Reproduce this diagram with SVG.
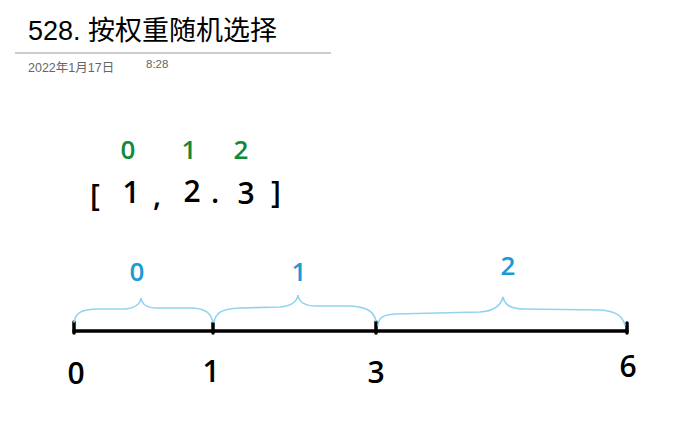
<svg xmlns="http://www.w3.org/2000/svg" width="687" height="448" viewBox="0 0 687 448">
<style>
.hand{font-family:"Open Sans","Liberation Sans",sans-serif;font-weight:600;text-anchor:middle}
.blk{fill:#000}
.grn{fill:#12893a}
.blu{fill:#1a9ad6}
.brace{fill:none;stroke:#93d3ee;stroke-width:1.6;stroke-linecap:round}
.axis{stroke:#000;stroke-width:3.5;stroke-linecap:round}
</style>
<rect width="687" height="448" fill="#fff"/>
<g id="header">
<text x="28" y="40" font-family="'Liberation Sans','Noto Sans CJK SC',sans-serif" font-size="27" fill="#000">528. 按权重随机选择</text>
<line x1="15" y1="53" x2="331" y2="53" stroke="#9a9a9a" stroke-width="1"/>
<text x="28" y="72" font-family="'Liberation Sans','Noto Sans CJK SC',sans-serif" font-size="12.5" fill="#666">2022年1月17日</text>
<text x="146" y="68" font-family="'Liberation Sans',sans-serif" font-size="11.5" fill="#666">8:28</text>
</g>
<g id="indices" class="hand grn" font-size="26">
<text x="128" y="159">0</text>
<text x="189" y="159">1</text>
<text x="241" y="159">2</text>
</g>
<g id="array" class="hand blk" font-size="30">
<text x="95" y="206">[</text>
<text x="131" y="203">1</text>
<text x="157" y="206">,</text>
<text x="192" y="202">2</text>
<text x="215" y="203">.</text>
<text x="246" y="204">3</text>
<text x="276" y="203">]</text>
</g>
<g id="connectors">
<line class="axis" x1="74" y1="331" x2="627" y2="331"/>
<line class="axis" x1="74" y1="322" x2="74" y2="333"/>
<line class="axis" x1="213" y1="323" x2="213" y2="333"/>
<line class="axis" x1="376" y1="322" x2="376" y2="333"/>
<line class="axis" x1="627" y1="323" x2="627" y2="333"/>
<path class="brace" d="M74,322 C76,312 82,310 95,309 L125,309 C135,308 140,305 141,298 C142,305 147,308 157,308 L190,308 C205,308 211,313 213,322"/>
<path class="brace" d="M214,322 C216,312 222,309 240,308 L280,307 C292,306 297,302 298,295 C299,302 304,306 316,306 L350,306 C368,307 374,312 376,321"/>
<path class="brace" d="M378,325 C379,317 383,315 395,314 L480,312 C495,311 501,305 503,297 C505,305 510,309 525,309 L600,310 C615,311 622,315 625,325"/>
</g>
<g id="weights" class="hand blu" font-size="26">
<text x="137" y="281">0</text>
<text x="299" y="281">1</text>
<text x="508" y="275">2</text>
</g>
<g id="ticks" class="hand blk" font-size="30">
<text x="76" y="384">0</text>
<text x="211" y="382">1</text>
<text x="376" y="383">3</text>
<text x="628" y="377">6</text>
</g>
</svg>
